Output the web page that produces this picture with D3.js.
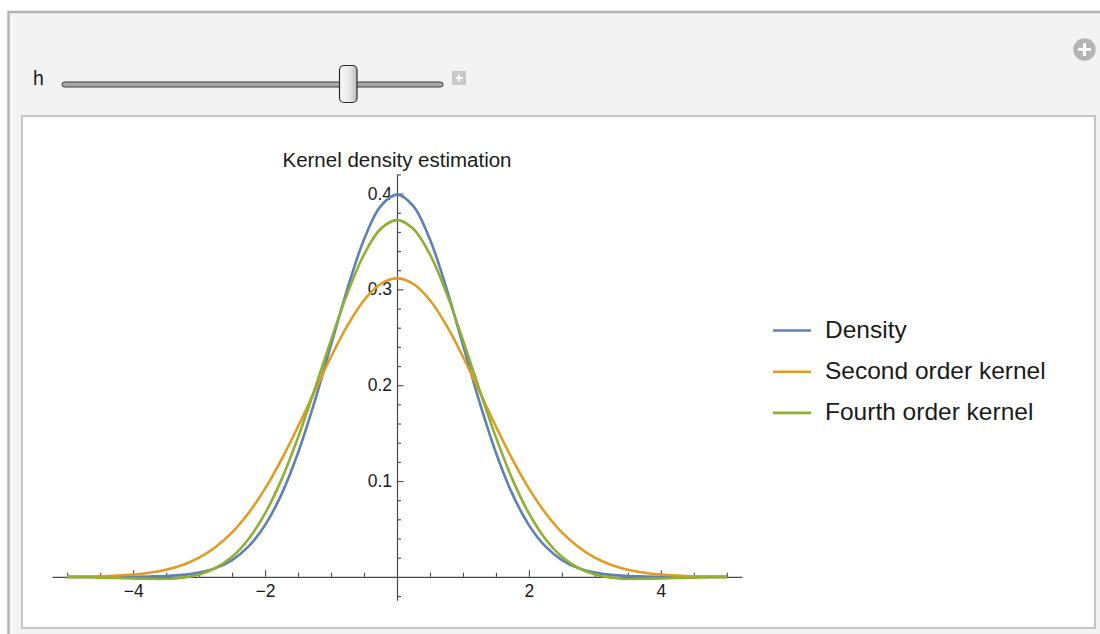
<!DOCTYPE html>
<html>
<head>
<meta charset="utf-8">
<script src="https://cdn.jsdelivr.net/npm/d3@7"></script>
<style>
  html, body { margin: 0; padding: 0; background: #fff; }
  svg { display: block; font-family: "Liberation Sans", Arial, sans-serif; }
</style>
</head>
<body>
<div id="app"></div>
<script>
// x grid of the curves
const xValues = [-5, -4.75, -4.5, -4.25, -4, -3.75, -3.5, -3.25, -3, -2.75, -2.5, -2.25, -2, -1.75, -1.5, -1.25, -1, -0.75, -0.5, -0.25,
  0, 0.25, 0.5, 0.75, 1, 1.25, 1.5, 1.75, 2, 2.25, 2.5, 2.75, 3, 3.25, 3.5, 3.75, 4, 4.25, 4.5, 4.75, 5];

// values (h = 0.8)
const density = [0.0000, 0.0000, 0.0000, 0.0000, 0.0001, 0.0004, 0.0009, 0.0020, 0.0044, 0.0091, 0.0175, 0.0317, 0.0540, 0.0863, 0.1295, 0.1826, 0.2420, 0.3011, 0.3521, 0.3867,
  0.3989, 0.3867, 0.3521, 0.3011, 0.2420, 0.1826, 0.1295, 0.0863, 0.0540, 0.0317, 0.0175, 0.0091, 0.0044, 0.0020, 0.0009, 0.0004, 0.0001, 0.0000, 0.0000, 0.0000, 0.0000];
const secondOrder = [0.0002, 0.0003, 0.0006, 0.0013, 0.0024, 0.0043, 0.0074, 0.0124, 0.0200, 0.0311, 0.0463, 0.0666, 0.0920, 0.1225, 0.1569, 0.1935, 0.2297, 0.2624, 0.2887, 0.3056,
  0.3115, 0.3056, 0.2887, 0.2624, 0.2297, 0.1935, 0.1569, 0.1225, 0.0920, 0.0666, 0.0463, 0.0311, 0.0200, 0.0124, 0.0074, 0.0043, 0.0024, 0.0013, 0.0006, 0.0003, 0.0002];
const fourthOrder = [-0.0003, -0.0005, -0.0008, -0.0012, -0.0017, -0.0020, -0.0020, -0.0008, 0.0025, 0.0092, 0.0209, 0.0395, 0.0662, 0.1017, 0.1455, 0.1953, 0.2471, 0.2961, 0.3364, 0.3630,
  0.3723, 0.3630, 0.3364, 0.2961, 0.2471, 0.1953, 0.1455, 0.1017, 0.0662, 0.0395, 0.0209, 0.0092, 0.0025, -0.0008, -0.0020, -0.0020, -0.0017, -0.0012, -0.0008, -0.0005, -0.0003];

const seriesNames = ["Density", "Second order kernel", "Fourth order kernel"];
const seriesColors = ["#5E81B5", "#E19C24", "#8FB032"];

const xMajorTicks = [-4, -2, 2, 4];
const xMinorTicks = [-5, -4.5, -3.5, -3, -2.5, -1.5, -1, -0.5, 0.5, 1, 1.5, 2.5, 3, 3.5, 4.5, 5];
const yMajorTicks = [0.1, 0.2, 0.3, 0.4];
const yMinorTicks = [-0.02, 0.02, 0.04, 0.06, 0.08, 0.12, 0.14, 0.16, 0.18, 0.22, 0.24, 0.26, 0.28, 0.32, 0.34, 0.36, 0.38, 0.42];

const W = 1100, H = 634;
const svg = d3.select("#app").append("svg")
  .attr("width", W)
  .attr("height", H);

const defs = svg.append("defs");
const grad = defs.append("linearGradient").attr("id", "thumbGrad")
  .attr("x1", 0).attr("y1", 0).attr("x2", 1).attr("y2", 0);
grad.append("stop").attr("offset", "0%").attr("stop-color", "#fafafa");
grad.append("stop").attr("offset", "60%").attr("stop-color", "#e6e6e6");
grad.append("stop").attr("offset", "100%").attr("stop-color", "#b8b8b8");

// Manipulate panel
svg.append("rect")
  .attr("x", 8.5).attr("y", 12)
  .attr("width", 1110).attr("height", 640)
  .attr("fill", "#f3f3f3")
  .attr("stroke", "#b4b4b4")
  .attr("stroke-width", 2.5);

// slider control
svg.append("text")
  .attr("x", 33).attr("y", 85)
  .style("font-size", "19.5px")
  .attr("fill", "#1a1a1a")
  .text("h");

svg.append("rect")
  .attr("x", 62).attr("y", 82)
  .attr("width", 381).attr("height", 5)
  .attr("rx", 2.5)
  .attr("fill", "#a9a9a9")
  .attr("stroke", "#3a3a3a")
  .attr("stroke-width", 1);

svg.append("rect")
  .attr("x", 339.5).attr("y", 65.5)
  .attr("width", 17.5).attr("height", 37)
  .attr("rx", 4.5)
  .attr("fill", "url(#thumbGrad)")
  .attr("stroke", "#2a2a2a")
  .attr("stroke-width", 1.2);

svg.append("rect")
  .attr("x", 452).attr("y", 71)
  .attr("width", 14).attr("height", 14)
  .attr("fill", "#c8c8c8");
svg.append("path")
  .attr("d", "M459,74.5V81.5M455.5,78H462.5")
  .attr("stroke", "#fff")
  .attr("stroke-width", 2);

// options button
svg.append("circle")
  .attr("cx", 1084.5).attr("cy", 49.5).attr("r", 11.2)
  .attr("fill", "#b5b5b5");
svg.append("path")
  .attr("d", "M1084.5,43V56M1078,49.5H1091")
  .attr("stroke", "#fff")
  .attr("stroke-width", 3.2);

// plot pane
svg.append("rect")
  .attr("x", 22).attr("y", 116)
  .attr("width", 1073).attr("height", 512)
  .attr("fill", "#fff")
  .attr("stroke", "#c6c6c6")
  .attr("stroke-width", 2);

// scales
const x = d3.scaleLinear().domain([-5.23, 5.23]).range([52, 742]);
const y = d3.scaleLinear().domain([-0.0245, 0.42]).range([600.3, 174.4]);

const axisColor = "#4a4a4a";
const labelColor = "#1a1a1a";

// x axis
const gx = svg.append("g").attr("transform", `translate(0,${y(0)})`);
gx.call(d3.axisBottom(x).tickValues(xMinorTicks).tickSize(-4).tickSizeOuter(0).tickFormat(""));
const gxMajor = svg.append("g").attr("transform", `translate(0,${y(0)})`)
  .call(d3.axisBottom(x).tickValues(xMajorTicks).tickSize(-6.5).tickSizeOuter(0).tickPadding(8)
    .tickFormat(d => d < 0 ? "\u2212" + Math.abs(d) : d));
gxMajor.select(".domain").remove();

// y axis
const gy = svg.append("g").attr("transform", `translate(${x(0)},0)`);
gy.call(d3.axisLeft(y).tickValues(yMinorTicks).tickSize(-4).tickSizeOuter(0).tickFormat(""));
const gyMajor = svg.append("g").attr("transform", `translate(${x(0)},0)`)
  .call(d3.axisLeft(y).tickValues(yMajorTicks).tickSize(-6.5).tickSizeOuter(0).tickPadding(5)
    .tickFormat(d3.format(".1f")));
gyMajor.select(".domain").remove();

svg.selectAll(".domain").attr("stroke", axisColor).attr("stroke-width", 1.2);
svg.selectAll(".tick line").attr("stroke", axisColor).attr("stroke-width", 1.1);
svg.selectAll(".tick text")
  .attr("fill", labelColor)
  .style("font-family", "\"Liberation Sans\", Arial, sans-serif")
  .style("font-size", "17.5px");

// title
svg.append("text")
  .attr("x", x(0)).attr("y", 167)
  .attr("text-anchor", "middle")
  .attr("fill", labelColor)
  .style("font-size", "20.5px")
  .text("Kernel density estimation");

// curves
const allSeries = [density, secondOrder, fourthOrder];
const line = d3.line()
  .x((d, i) => x(xValues[i]))
  .y(d => y(d))
  .curve(d3.curveCatmullRom);

svg.selectAll("path.curve")
  .data(allSeries)
  .join("path")
  .attr("class", "curve")
  .attr("d", d => line(d))
  .attr("fill", "none")
  .attr("stroke", (d, i) => seriesColors[i])
  .attr("stroke-width", 2.6)
  .attr("stroke-linejoin", "round");

// legend
const legend = svg.selectAll("g.legend")
  .data(seriesNames)
  .join("g")
  .attr("class", "legend")
  .attr("transform", (d, i) => `translate(773,${330.5 + i * 41.2})`);
legend.append("line")
  .attr("x1", 0).attr("x2", 38)
  .attr("stroke", (d, i) => seriesColors[i])
  .attr("stroke-width", 2.6);
legend.append("text")
  .attr("x", 52).attr("y", 7.5)
  .attr("fill", labelColor)
  .style("font-size", "24.5px")
  .text(d => d);
</script>
</body>
</html>
